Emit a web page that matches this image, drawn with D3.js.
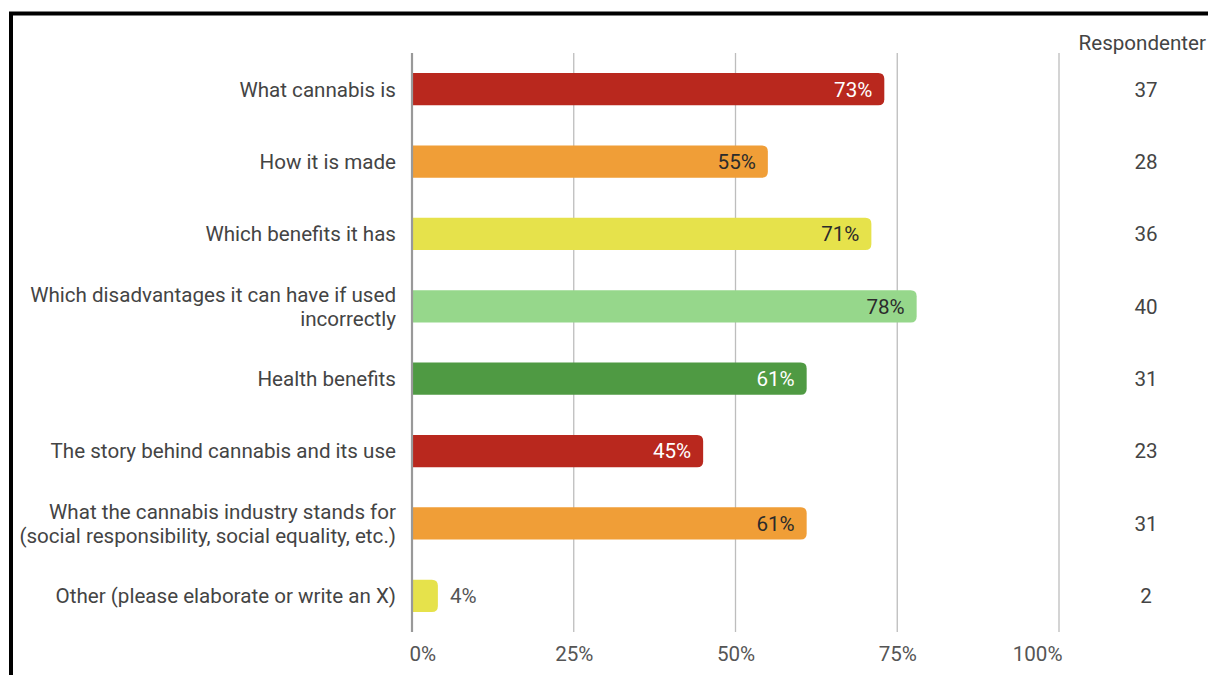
<!DOCTYPE html>
<html>
<head>
<meta charset="utf-8">
<script src="https://cdn.jsdelivr.net/npm/d3@7"></script>
<style>
  html, body { margin: 0; padding: 0; background: #fff; }
  svg { display: block; font-family: Roboto, "Noto Sans", sans-serif; }
</style>
</head>
<body>
<svg id="chart" width="1208" height="675"></svg>
<script>
// Survey topics: what respondents want to know about cannabis
const categories = [
  ["What cannabis is"],
  ["How it is made"],
  ["Which benefits it has"],
  ["Which disadvantages it can have if used", "incorrectly"],
  ["Health benefits"],
  ["The story behind cannabis and its use"],
  ["What the cannabis industry stands for", "(social responsibility, social equality, etc.)"],
  ["Other (please elaborate or write an X)"]
];
const percentages = [73, 55, 71, 78, 61, 45, 61, 4];
const respondents = [37, 28, 36, 40, 31, 23, 31, 2];
const barColors = ["#b9281e", "#f09e37", "#e6e24b", "#96d78b", "#4f9a43", "#b9281e", "#f09e37", "#e6e24b"];
const labelColors = ["#ffffff", "#2b2b2b", "#2b2b2b", "#2b2b2b", "#ffffff", "#ffffff", "#2b2b2b", "#555555"];
const tickValues = [0, 25, 50, 75, 100];
const columnTitle = "Respondenter";

const FS = 20.6;
const svg = d3.select("#chart");

// frame around the chart
svg.append("rect")
  .attr("x", 11).attr("y", 13.5)
  .attr("width", 1230).attr("height", 700)
  .attr("fill", "none").attr("stroke", "#000").attr("stroke-width", 4);

const x = d3.scaleLinear().domain([0, 100]).range([412, 1059]);
const y = d3.scaleBand().domain(d3.range(categories.length)).range([53, 632]).paddingInner(0.555).paddingOuter(0.277);

// vertical gridlines
svg.append("g").selectAll("line").data(tickValues.filter(d => d > 0)).join("line")
  .attr("x1", d => x(d)).attr("x2", d => x(d))
  .attr("y1", 53).attr("y2", 632)
  .attr("stroke", "#bdbdbd").attr("stroke-width", 1.3);

// x axis labels; the outermost ones are kept inside the plot width
const axis = d3.axisBottom(x).tickValues(tickValues).tickFormat(d => d + "%").tickSize(0).tickPadding(0);
const ax = svg.append("g").attr("transform", "translate(0,661)").call(axis);
ax.select(".domain").remove();
ax.selectAll("text").attr("font-size", FS).attr("fill", "#555").attr("dy", 0)
  .attr("font-family", "Roboto, sans-serif")
  .attr("text-anchor", d => d === 0 ? "start" : d === 100 ? "end" : "middle")
  .attr("x", d => d === 0 ? -3 : d === 100 ? 3 : 0);

// bars with rounded right end
const r = 6;
function barPath(i) {
  const x0 = x(0), x1 = x(percentages[i]);
  const y0 = y(i), h = y.bandwidth();
  const rr = Math.min(r, (x1 - x0));
  return `M${x0},${y0} H${x1 - rr} Q${x1},${y0} ${x1},${y0 + rr} V${y0 + h - rr} Q${x1},${y0 + h} ${x1 - rr},${y0 + h} H${x0} Z`;
}
svg.append("g").selectAll("path").data(percentages).join("path")
  .attr("d", (d, i) => barPath(i))
  .attr("fill", (d, i) => barColors[i]);

// zero baseline
svg.append("line")
  .attr("x1", x(0)).attr("x2", x(0)).attr("y1", 53).attr("y2", 632)
  .attr("stroke", "#999").attr("stroke-width", 2.2);

// value labels
svg.append("g").selectAll("text").data(percentages).join("text")
  .attr("x", (d, i) => d < 10 ? x(d) + 12 : x(d) - 12)
  .attr("y", (d, i) => y(i) + y.bandwidth() / 2)
  .attr("dy", "0.36em")
  .attr("text-anchor", d => d < 10 ? "start" : "end")
  .attr("font-size", FS)
  .attr("fill", (d, i) => labelColors[i])
  .text(d => d + "%");

// category labels
const catG = svg.append("g").selectAll("text").data(categories).join("text")
  .attr("text-anchor", "end")
  .attr("font-size", FS)
  .attr("fill", "#444")
  .attr("y", (d, i) => y(i) + y.bandwidth() / 2);
catG.selectAll("tspan").data(d => d.map((t, k) => ({ t, k, n: d.length }))).join("tspan")
  .attr("x", 396)
  .attr("dy", p => p.k === 0 ? (0.36 - (p.n - 1) * 0.58) + "em" : "1.16em")
  .text(p => p.t);

// respondent counts column
svg.append("text")
  .attr("x", 1206).attr("y", 43)
  .attr("dy", "0.36em")
  .attr("text-anchor", "end")
  .attr("font-size", FS).attr("fill", "#444")
  .text(columnTitle);
svg.append("g").selectAll("text").data(respondents).join("text")
  .attr("x", 1146)
  .attr("y", (d, i) => y(i) + y.bandwidth() / 2)
  .attr("dy", "0.36em")
  .attr("text-anchor", "middle")
  .attr("font-size", FS).attr("fill", "#444")
  .text(d => d);
</script>
</body>
</html>
